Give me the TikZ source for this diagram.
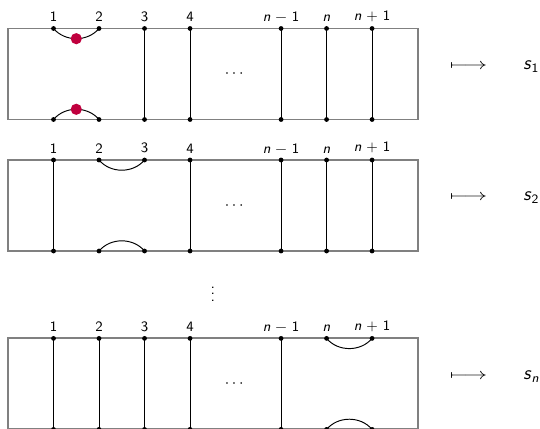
\documentclass[tikz,border=0pt]{standalone}
\usepackage{amsmath}
\usepackage{graphicx}
\usepackage{fontspec}
\usepackage{xcolor}
\usepackage{tikz}
\definecolor{dotred}{RGB}{192,0,62}
\newcommand{\nn}{\textit{n}}

\begin{document}
\begin{tikzpicture}[font=\sffamily,
    box/.style={gray, line width=1.2pt},
    strand/.style={black, line width=0.6pt},
    enddot/.style={circle, fill=black, inner sep=0pt, minimum size=3pt},
    reddot/.style={circle, fill=dotred, inner sep=0pt, minimum size=7pt},
    lab/.style={above=3pt, inner sep=1pt, font=\small\sffamily}]
    \useasboundingbox (-0.176,0.626) rectangle (11.69,-8.80);
    % three boxes with their labels
    \foreach \r/\ytop in {1/0, 2/-2.89, 3/-6.81} {
        \draw[box] (0,\ytop) rectangle (9,\ytop-2);
        \foreach \k/\lab in {1/1,2/2,3/3,4/4,6/\nn{} − 1,7/\nn,8/\nn{} + 1} {
            \coordinate (t\r-\k) at (\k,\ytop);
            \coordinate (b\r-\k) at (\k,\ytop-2);
            \node[lab] (l\r-\k) at (t\r-\k) {\lab};
        }
        \node (dots\r) at (5,\ytop-1) {$\cdots$};
        \node (arr\r) at (10.12,\ytop-0.83) {\scalebox{1.45}[1]{$\longmapsto$}};
    }
    \node[font=\large\sffamily] (s1) at (11.5,-0.83) {\textit{s}\textsubscript{1}};
    \node[font=\large\sffamily] (s2) at (11.5,-3.72) {\textit{s}\textsubscript{2}};
    \node[font=\large\sffamily] (sn) at (11.5,-7.64) {\textit{s}\textsubscript{\textit{n}}};
    \node (vdots) at (4.5,-5.73) {$\vdots$};
    % first box
    \draw[strand] (t1-1) to[bend right=50] node[reddot] (red1) {} (t1-2);
    \draw[strand] (b1-1) to[bend left=50] node[reddot] (red2) {} (b1-2);
    \foreach \k in {3,4,6,7,8} \draw[strand] (t1-\k) -- (b1-\k);
    % second box
    \draw[strand] (t2-2) to[bend right=50] (t2-3);
    \draw[strand] (b2-2) to[bend left=50] (b2-3);
    \foreach \k in {1,4,6,7,8} \draw[strand] (t2-\k) -- (b2-\k);
    % last box
    \draw[strand] (t3-7) to[bend right=50] (t3-8);
    \draw[strand] (b3-7) to[bend left=50] (b3-8);
    \foreach \k in {1,2,3,4,6} \draw[strand] (t3-\k) -- (b3-\k);
    % end points
    \foreach \r in {1,2,3}
        \foreach \k in {1,2,3,4,6,7,8} {
            \node[enddot] at (t\r-\k) {};
            \node[enddot] at (b\r-\k) {};
        }
\end{tikzpicture}
\end{document}
